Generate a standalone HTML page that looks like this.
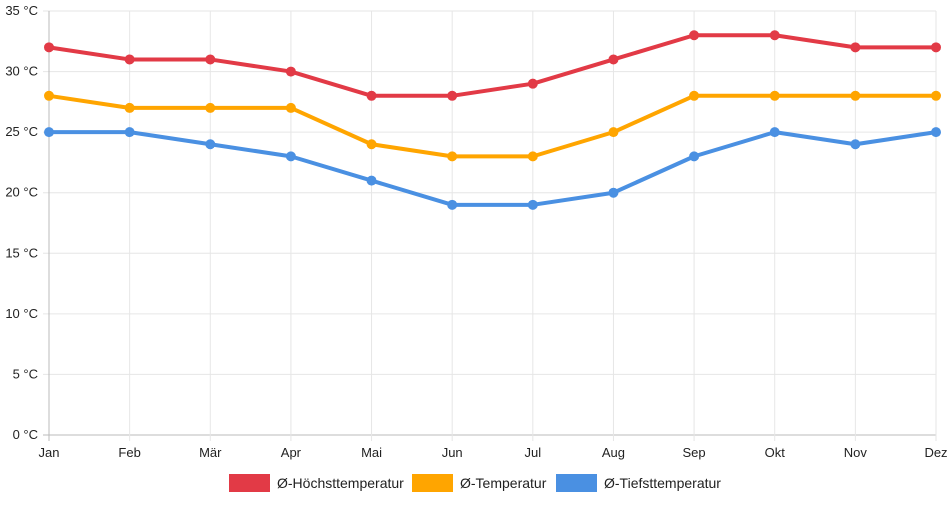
<!DOCTYPE html>
<html><head><meta charset="utf-8"><style>
body{margin:0;background:#fff;font-family:"Liberation Sans",sans-serif}
svg text{font-family:"Liberation Sans",sans-serif;font-size:13px;fill:#222}
svg text.leg{font-size:14px}
</style></head><body>
<svg id="c" width="952" height="500"></svg>
<script>
const months=["Jan","Feb","Mär","Apr","Mai","Jun","Jul","Aug","Sep","Okt","Nov","Dez"];
const highs=[32,31,31,30,28,28,29,31,33,33,32,32];
const avgs=[28,27,27,27,24,23,23,25,28,28,28,28];
const lows=[25,25,24,23,21,19,19,20,23,25,24,25];
const yTicks=[0,5,10,15,20,25,30,35];
const seriesNames=["Ø-Höchsttemperatur","Ø-Temperatur","Ø-Tiefsttemperatur"];
const colors=["#e23a46","#ffa500","#4a90e2"];
const svg=document.getElementById('c');const NS="http://www.w3.org/2000/svg";
const x0=49,x1=936,y0=435,y1=11;
const xs=i=>x0+i*(x1-x0)/(months.length-1);
const ys=v=>y0-v*(y0-y1)/35;
function el(t,a,p){const e=document.createElementNS(NS,t);for(const k in a)e.setAttribute(k,a[k]);(p||svg).appendChild(e);return e;}
yTicks.forEach(v=>{
 const l=el('line',{x1:x0-6,x2:x1,y1:ys(v),y2:ys(v),stroke:v===0?'#bbb':'#e6e6e6'});
 
 
 const t=el('text',{x:38,y:ys(v)+4,'text-anchor':'end'});t.textContent=v+' °C';
 
 
});
months.forEach((m,i)=>{
 const l=el('line',{x1:xs(i),x2:xs(i),y1:y1,y2:y0+6,stroke:i===0?'#bbb':'#e6e6e6'});
 
 
 const t=el('text',{x:xs(i),y:y0+22,'text-anchor':'middle'});t.textContent=m;
 
 
});
[highs,avgs,lows].forEach((s,k)=>{
 const g=el('g',{});
 
 
 const p=el('polyline',{points:s.map((v,i)=>xs(i)+','+ys(v)).join(' '),fill:'none',stroke:colors[k],'stroke-width':4,'stroke-linejoin':'round'},g);
 
 
 s.forEach((v,i)=>{const c=el('circle',{cx:xs(i),cy:ys(v),r:5,fill:colors[k]},g);
 
 });
});
const lx=[229,412,556];
seriesNames.forEach((n,k)=>{
 const g=el('g',{});
 
 
 el('rect',{x:lx[k],y:474,width:41,height:18,fill:colors[k]},g);
 const t=el('text',{x:lx[k]+48,y:488,'class':'leg'},g);t.textContent=n;
});
</script>
</body></html>
